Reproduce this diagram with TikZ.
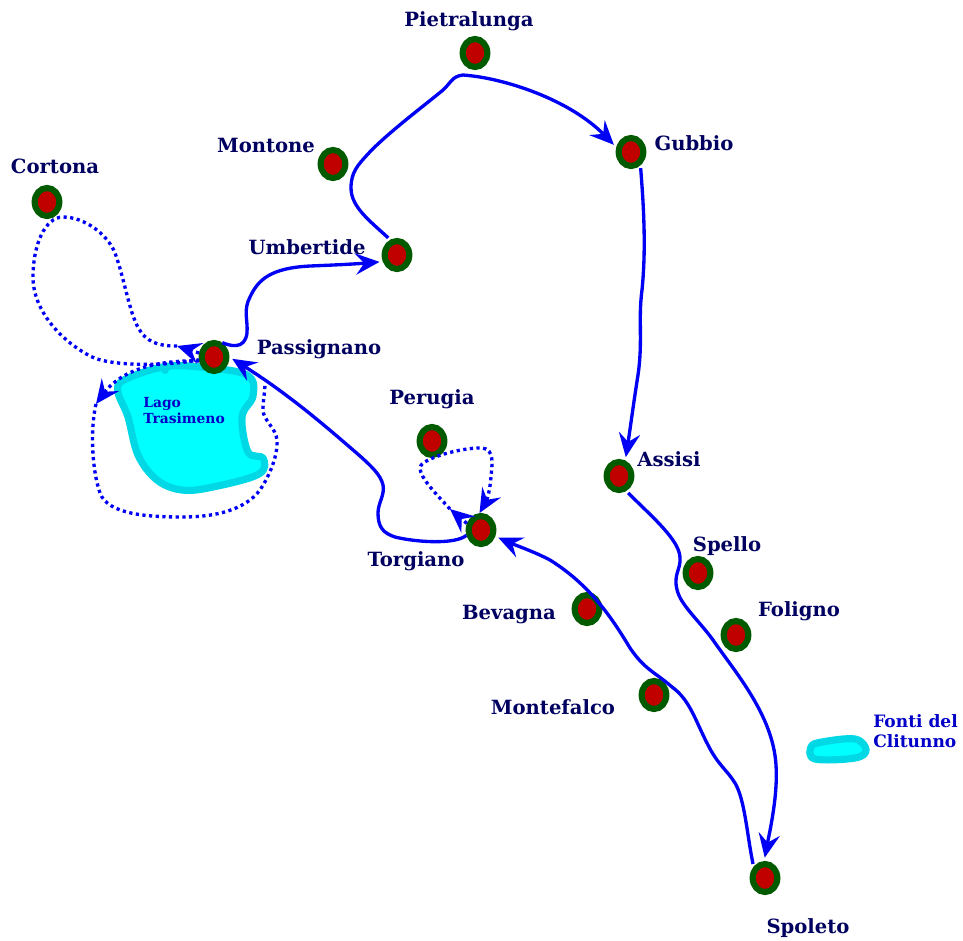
\documentclass[tikz,border=0pt]{standalone}
\usepackage{fontspec}
\setmainfont{DejaVu Serif}
\usetikzlibrary{shapes.geometric,arrows.meta}
\definecolor{rednav}{HTML}{000060}
\definecolor{lakeblue}{HTML}{0000C8}
\definecolor{routeblue}{HTML}{0000F5}
\definecolor{towngreen}{HTML}{005A00}
\definecolor{townred}{HTML}{C00000}
\definecolor{shore}{HTML}{00D8E6}
\definecolor{lakefill}{HTML}{00FFFF}
\tikzset{
  town/.style={ellipse,draw=towngreen,fill=townred,line width=4.6pt,minimum width=18.5pt,minimum height=21pt,inner sep=0pt,outer sep=2.3pt},
  place/.style={text=rednav,font=\fontsize{14.7pt}{16pt}\selectfont\bfseries,inner sep=0pt},
  lakelabel/.style={text=lakeblue,font=\fontsize{10.4pt}{12pt}\selectfont\bfseries,inner sep=0pt,align=left,anchor=west},
  springlabel/.style={text=lakeblue,font=\fontsize{12.8pt}{15pt}\selectfont\bfseries,inner sep=0pt,align=left,anchor=west},
  water/.style={draw=shore,fill=lakefill,line width=5.4pt,line join=round},
  headtip/.style={-{Stealth[length=18pt,width=16pt,inset=6.5pt]}},
  route/.style={draw=routeblue,line width=2.5pt,headtip,shorten >=2.5pt},
  gapstart/.style={shorten <=2pt},
  excursion/.style={draw=routeblue,line width=2.5pt,dash pattern=on 2.4pt off 2.6pt},
  excursionhead/.style={excursion,headtip},
}
\begin{document}
\begin{tikzpicture}[x=0.75pt,y=-0.75pt]
\path[use as bounding box] (0,0) rectangle (963,940);
% water
\draw[water] plot[smooth cycle,tension=0.6] coordinates {(118,392) (124,380) (163,367) (200,367) (247,375) (253,396) (242,417) (248,452) (263,458) (259,474) (213,487) (182,490) (157,480) (138,455) (128,417)};
\fill[shore] (165,370) circle[radius=4];
\draw[water] plot[smooth cycle,tension=0.6] coordinates {(811,747) (822,742) (855,739) (866,750) (855,758) (815,759)};
\node[lakelabel] (lago) at (143,411) {Lago\\Trasimeno};
\node[springlabel] (fonti) at (873,731) {Fonti del\\Clitunno};
% towns
\node[town] (pietralunga) at (475,53) {};
\node[town] (montone) at (333,164) {};
\node[town] (gubbio) at (631,152) {};
\node[town] (cortona) at (47,202) {};
\node[town] (umbertide) at (397,255) {};
\node[town] (passignano) at (214,357) {};
\node[town] (perugia) at (432,441) {};
\node[town] (assisi) at (619,476) {};
\node[town] (torgiano) at (481,530) {};
\node[town] (spello) at (698,573) {};
\node[town] (bevagna) at (587,609) {};
\node[town] (foligno) at (736,635) {};
\node[town] (montefalco) at (654,695) {};
\node[town] (spoleto) at (765,878) {};
% labels
\node[place] (lpietralunga) at (469,21) {Pietralunga};
\node[place] (lmontone) at (266,145) {Montone};
\node[place] (lgubbio) at (694,143) {Gubbio};
\node[place] (lcortona) at (55,166) {Cortona};
\node[place] (lumbertide) at (307,247) {Umbertide};
\node[place] (lpassignano) at (319,349) {Passignano};
\node[place] (lperugia) at (432,399) {Perugia};
\node[place] (lassisi) at (669,459) {Assisi};
\node[place] (ltorgiano) at (416,561) {Torgiano};
\node[place] (lspello) at (727,546) {Spello};
\node[place] (lbevagna) at (509,615) {Bevagna};
\node[place] (lfoligno) at (799,611) {Foligno};
\node[place] (lmontefalco) at (553,707) {Montefalco};
\node[place] (lspoleto) at (808,928) {Spoleto};
% free coordinates
\coordinate (tipcortona) at (177,346);
\coordinate (tiplake) at (96,404);
\coordinate (tipperugiaout) at (450,509);
\coordinate (loopend) at (265,383);
% solid routes
\draw[route,gapstart] (umbertide.114) .. controls (370,221) and (351,207) .. (351,188)
  .. controls (351,172) and (358,165) .. (367,155)
  .. controls (385,135) and (425,105) .. (443,90)
  .. controls (450,84) and (452,76) .. (463,75)
  .. controls (505,78) and (570,100) .. (gubbio.162);
\draw[route,gapstart] (gubbio.-55) .. controls (644,210) and (646,250) .. (642,290)
  .. controls (638,320) and (643,340) .. (638,375)
  .. controls (634,400) and (630,430) .. (assisi.68);
\draw[route,gapstart] (assisi.-64) .. controls (650,515) and (680,540) .. (680,558)
  .. controls (681,570) and (672,575) .. (678,593)
  .. controls (683,607) and (700,622) .. (713,640)
  .. controls (735,672) and (773,715) .. (776,765)
  .. controls (778,795) and (770,830) .. (spoleto.93);
\draw[route,gapstart] (spoleto.135) .. controls (747,835) and (745,800) .. (735,783)
  .. controls (727,770) and (718,765) .. (708,745)
  .. controls (695,720) and (690,700) .. (672,687)
  .. controls (655,672) and (645,670) .. (630,648)
  .. controls (612,618) and (590,585) .. (550,560)
  .. controls (535,552) and (515,545) .. (torgiano.-24);
\draw[route] (torgiano.200) .. controls (455,545) and (415,542) .. (395,537)
  .. controls (383,533) and (378,527) .. (378,513)
  .. controls (378,503) and (385,495) .. (383,485)
  .. controls (381,475) and (370,465) .. (360,456)
  .. controls (330,430) and (290,395) .. (passignano.0);
\draw[route] (passignano.60) .. controls (230,346) and (245,350) .. (247,333)
  .. controls (248,320) and (243,310) .. (250,297)
  .. controls (258,280) and (270,268) .. (310,266)
  .. controls (335,265) and (355,264) .. (umbertide.205);
% dotted excursions
\draw[excursionhead] (passignano.165) -- (tipcortona);
\draw[excursion] (tipcortona) .. controls (165,346) and (150,345) .. (141,332)
  .. controls (130,318) and (125,280) .. (115,253)
  .. controls (108,235) and (85,217) .. (63,217)
  .. controls (45,217) and (33,245) .. (33,277)
  .. controls (33,310) and (60,340) .. (90,356)
  .. controls (110,367) and (170,366) .. (passignano.190);
\draw[excursionhead] (passignano.195) .. controls (170,360) and (125,365) .. (tiplake);
\draw[excursion] (tiplake) .. controls (90,430) and (92,470) .. (100,493)
  .. controls (108,515) and (150,517) .. (183,517)
  .. controls (215,517) and (245,510) .. (260,490)
  .. controls (270,475) and (278,455) .. (277,440)
  .. controls (276,428) and (263,420) .. (263,410)
  .. controls (263,400) and (265,392) .. (loopend);
\draw[excursionhead] (torgiano.155) -- (tipperugiaout);
\draw[excursionhead] (tipperugiaout) .. controls (438,496) and (420,478) .. (420,468)
  .. controls (420,458) and (465,447) .. (482,448)
  .. controls (495,449) and (492,465) .. (491,477)
  .. controls (490,490) and (487,500) .. (torgiano.95);
\end{tikzpicture}
\end{document}
